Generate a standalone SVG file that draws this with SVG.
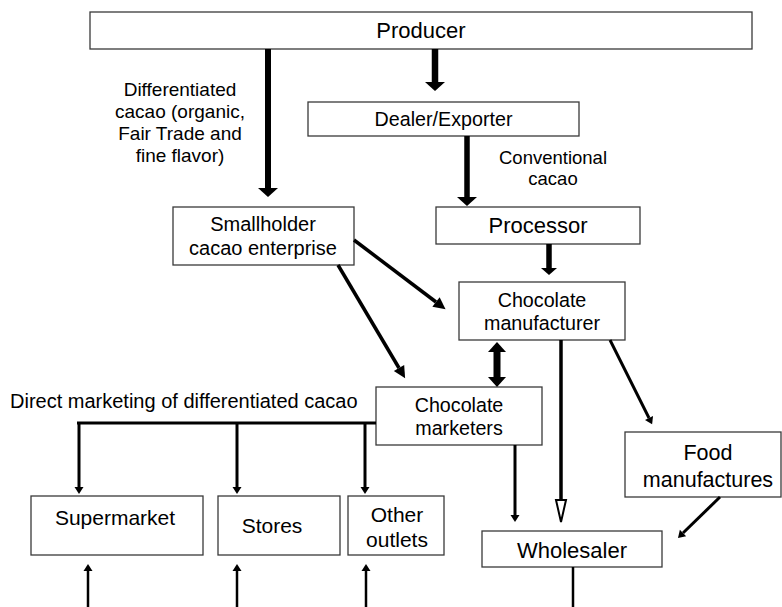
<svg xmlns="http://www.w3.org/2000/svg" width="782" height="607" viewBox="0 0 782 607">
<style>
.box{fill:#fff;stroke:#3a3a3a;stroke-width:1.3}
text{font-family:"Liberation Sans",Arial,sans-serif;fill:#000;text-anchor:middle}
.l{fill:none;stroke:#000}
</style>
<defs>
<marker id="hBig" markerUnits="userSpaceOnUse" markerWidth="10" markerHeight="20" viewBox="0 0 10 20" refX="0" refY="10" orient="auto" overflow="visible"><path d="M0,0 L9,10 L0,20 Z" fill="#000"/></marker>
<marker id="hMid" markerUnits="userSpaceOnUse" markerWidth="8" markerHeight="16" viewBox="0 0 8 16" refX="0" refY="8" orient="auto" overflow="visible"><path d="M0,0 L7,8 L0,16 Z" fill="#000"/></marker>
<marker id="hDiag" markerUnits="userSpaceOnUse" markerWidth="13" markerHeight="12" viewBox="0 0 13 12" refX="0" refY="6" orient="auto" overflow="visible"><path d="M0,0 L12,6 L0,12 Z" fill="#000"/></marker>
<marker id="hThin" markerUnits="userSpaceOnUse" markerWidth="8" markerHeight="9" viewBox="0 0 8 9" refX="0" refY="4.5" orient="auto" overflow="visible"><path d="M0,0 L7,4.5 L0,9 Z" fill="#000"/></marker>
<marker id="hDbl" markerUnits="userSpaceOnUse" markerWidth="11" markerHeight="18" viewBox="0 0 11 18" refX="0" refY="9" orient="auto" overflow="visible"><path d="M0,0 L10,9 L0,18 Z" fill="#000"/></marker>
<marker id="hDblS" markerUnits="userSpaceOnUse" markerWidth="11" markerHeight="18" viewBox="0 0 11 18" refX="0" refY="9" orient="auto-start-reverse" overflow="visible"><path d="M0,0 L10,9 L0,18 Z" fill="#000"/></marker>
</defs>

<g id="producer"><rect class="box" x="90" y="12" width="662" height="37"/><text x="421" y="38" font-size="22">Producer</text></g>
<g id="dealer"><rect class="box" x="308" y="102" width="271" height="34"/><text x="443.5" y="126" font-size="19.7">Dealer/Exporter</text></g>
<g id="processor"><rect class="box" x="436" y="207" width="204" height="37"/><text x="538" y="233" font-size="22">Processor</text></g>
<g id="smallholder"><rect class="box" x="173" y="207" width="181" height="58"/><text x="263" y="231" font-size="20">Smallholder</text><text x="263" y="255" font-size="20">cacao enterprise</text></g>
<g id="chocmanufacturer"><rect class="box" x="459" y="282" width="166" height="58"/><text x="542" y="307" font-size="19.7">Chocolate</text><text x="542" y="330" font-size="19.7">manufacturer</text></g>
<g id="chocmarketers"><rect class="box" x="376" y="387" width="166" height="58"/><text x="459" y="412" font-size="19.7">Chocolate</text><text x="459" y="435" font-size="19.7">marketers</text></g>
<g id="foodmanufactures"><rect class="box" x="625" y="432" width="156" height="65"/><text x="708" y="460" font-size="21.5">Food</text><text x="708" y="487" font-size="21.5">manufactures</text></g>
<g id="wholesaler"><rect class="box" x="482" y="531" width="180" height="36"/><text x="572" y="558" font-size="22">Wholesaler</text></g>
<g id="supermarket"><rect class="box" x="31" y="496" width="172" height="59"/><text x="115" y="525" font-size="21">Supermarket</text></g>
<g id="stores"><rect class="box" x="218" y="496" width="122" height="59"/><text x="272" y="533" font-size="21">Stores</text></g>
<g id="otheroutlets"><rect class="box" x="348" y="496" width="96" height="59"/><text x="397" y="522" font-size="21">Other</text><text x="397" y="547" font-size="21">outlets</text></g>

<g id="labels">
<text x="180" y="96" font-size="19">Differentiated</text>
<text x="180" y="118" font-size="19">cacao (organic,</text>
<text x="180" y="140" font-size="19">Fair Trade and</text>
<text x="180" y="162" font-size="19">fine flavor)</text>
<text x="553" y="164" font-size="18.5">Conventional</text>
<text x="553" y="185" font-size="18.5">cacao</text>
<text x="10" y="408" font-size="20" style="text-anchor:start">Direct marketing of differentiated cacao</text>
</g>

<g id="connectors">
<line class="l" x1="268" y1="49" x2="268" y2="188" stroke-width="6" marker-end="url(#hBig)"/>
<line class="l" x1="435" y1="49" x2="435" y2="82" stroke-width="6.5" marker-end="url(#hBig)"/>
<line class="l" x1="467" y1="136" x2="467" y2="197" stroke-width="5.5" marker-end="url(#hBig)"/>
<line class="l" x1="549" y1="244" x2="549" y2="268" stroke-width="5.5" marker-end="url(#hMid)"/>
<line class="l" x1="354" y1="240" x2="436" y2="302" stroke-width="3.5" marker-end="url(#hDiag)"/>
<line class="l" x1="338" y1="265" x2="399" y2="368" stroke-width="3.5" marker-end="url(#hDiag)"/>
<line class="l" x1="497" y1="352" x2="497" y2="377" stroke-width="7" marker-start="url(#hDblS)" marker-end="url(#hDbl)"/>
<line class="l" x1="561" y1="340" x2="561" y2="500" stroke-width="3.5"/>
<polygon points="556,500 566,500 561,522" fill="#fff" stroke="#000" stroke-width="2"/>
<line class="l" x1="610" y1="340" x2="649" y2="418" stroke-width="3" marker-end="url(#hThin)"/>
<line class="l" x1="720" y1="497" x2="683" y2="533" stroke-width="3" marker-end="url(#hThin)"/>
<line class="l" x1="515" y1="445" x2="515" y2="515" stroke-width="3" marker-end="url(#hThin)"/>
<line class="l" x1="573" y1="567" x2="573" y2="607" stroke-width="2.5"/>
<line class="l" x1="77" y1="423" x2="376" y2="423" stroke-width="3"/>
<line class="l" x1="79" y1="423" x2="79" y2="487" stroke-width="3" marker-end="url(#hThin)"/>
<line class="l" x1="237" y1="423" x2="237" y2="487" stroke-width="3" marker-end="url(#hThin)"/>
<line class="l" x1="365" y1="423" x2="365" y2="487" stroke-width="3" marker-end="url(#hThin)"/>
<line class="l" x1="88" y1="607" x2="88" y2="571" stroke-width="2.5" marker-end="url(#hThin)"/>
<line class="l" x1="237" y1="607" x2="237" y2="571" stroke-width="2.5" marker-end="url(#hThin)"/>
<line class="l" x1="366" y1="607" x2="366" y2="571" stroke-width="2.5" marker-end="url(#hThin)"/>
</g>
</svg>
